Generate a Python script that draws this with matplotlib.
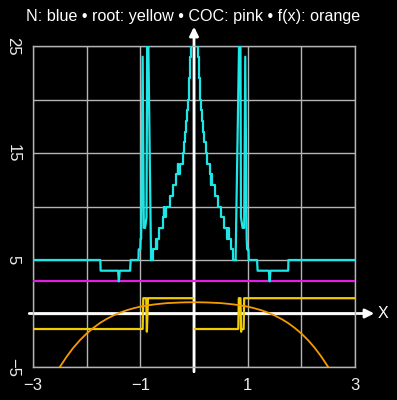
import numpy as np
import matplotlib
matplotlib.use("Agg")
import matplotlib.pyplot as plt

plt.rcParams['font.family'] = ['Liberation Sans', 'DejaVu Sans']

# ---- data ----
# N (iterations) : chaotic / flat parts, left and right of the centre
n_left_x = [-3.0, -1.745, -1.74, -1.415, -1.40, -1.385, -1.19, -1.18, -1.035, -1.03,
            -1.0, -0.995, -0.985, -0.957, -0.935, -0.912, -0.885, -0.868, -0.80]
n_left_y = [5, 5, 4, 4, 3, 4, 4, 5, 5, 6, 6, 7, 7, 24, 8, 8, 9, 32, 5]
n_right_x = [0.775, 0.862, 0.875, 0.905, 0.935, 0.955, 0.982, 0.99, 1.015, 1.02,
             1.175, 1.185, 1.395, 1.41, 1.425, 1.755, 1.76, 3.0]
n_right_y = [5, 32, 9, 8, 8, 24, 7, 6, 6, 5, 5, 4, 4, 3, 4, 4, 5, 5]

# N : staircase around x = 0
stair_x = [-0.80, -0.755, -0.70, -0.69, -0.682, -0.655, -0.585, -0.56, -0.552, -0.515,
           -0.45, -0.39, -0.33, -0.30, -0.292, -0.27, -0.21, -0.185, -0.165, -0.148,
           -0.132, -0.115, -0.10, -0.088, -0.077, -0.068, -0.06, -0.052,
           0.066, 0.075, 0.084, 0.094, 0.105, 0.118, 0.133, 0.15, 0.168, 0.19,
           0.215, 0.235, 0.29, 0.31, 0.318, 0.34, 0.39, 0.45, 0.50, 0.565,
           0.62, 0.64, 0.648, 0.69, 0.725, 0.775]
stair_n = [5, 6, 7, 6, 7, 8, 9, 10, 9, 10,
           11, 12, 13, 14, 13, 14, 15, 16, 17, 18,
           19, 20, 21, 22, 23, 24, 25, 30,
           25, 24, 23, 22, 21, 20, 19, 18, 17, 16,
           15, 14, 13, 12, 13, 12, 11, 10, 9, 8,
           7, 8, 7, 6, 5, 5]

# root reached
root_x = [-3.0, -0.957, -0.945, -0.89, -0.878, -0.858, -0.015, np.nan,
          0.02, 0.825, 0.835, 0.866, 0.878, 0.885, 0.925, 0.935, 3.0]
root_y = [-1.45, -1.45, 1.43, 1.43, -1.7, 1.43, 1.43, np.nan,
          -1.45, -1.45, 1.43, 1.43, -1.7, -1.45, -1.45, 1.43, 1.43]

# COC
coc_x = [-3.0, 3.0]
coc_y = [3.0, 3.0]

# f(x)
fx_x = [-2.5, -2.375, -2.25, -2.125, -2.0, -1.875, -1.75, -1.625, -1.5, -1.375, -1.25,
        -1.125, -1.0, -0.875, -0.75, -0.625, -0.5, -0.375, -0.25, -0.125, 0.0,
        0.125, 0.25, 0.375, 0.5, 0.625, 0.75, 0.875, 1.0, 1.125, 1.25,
        1.375, 1.5, 1.625, 1.75, 1.875, 2.0, 2.125, 2.25, 2.375, 2.5]
fx_y = [-5.0, -4.05, -3.21, -2.49, -1.87, -1.34, -0.88, -0.50, -0.18, 0.09, 0.31,
        0.49, 0.64, 0.75, 0.84, 0.91, 0.97, 1.0, 1.03, 1.045, 1.05,
        1.045, 1.03, 1.0, 0.97, 0.91, 0.84, 0.75, 0.64, 0.49, 0.31,
        0.09, -0.18, -0.50, -0.88, -1.34, -1.87, -2.49, -3.21, -4.05, -5.0]

x_ticks = [-3, -1, 1, 3]
y_ticks = [-5, 5, 15, 25]

title = 'N: blue \u2022 root: yellow \u2022 COC: pink \u2022 f(x): orange'

# ---- figure ----
fig = plt.figure(figsize=(3.97, 4.0), dpi=100, facecolor='black')
ax = fig.add_axes([33/397, 33/400, 322/397, 321/400])
ax.set_facecolor('black')
ax.set_xlim(-3, 3)
ax.set_ylim(-5, 25)

grid_c = '#b4b4b4'
ax.set_xticks(x_ticks)
ax.set_xticks([-2, 0, 2], minor=True)
ax.set_yticks(y_ticks)
ax.set_yticks([0, 10, 20], minor=True)
ax.grid(True, which='both', color=grid_c, lw=1.0, zorder=0)
ax.set_axisbelow(True)
for s in ax.spines.values():
    s.set_color(grid_c)
    s.set_linewidth(1.0)

ax.tick_params(which='both', length=0, colors='#ececec', labelsize=12)
ax.tick_params(axis='x', pad=8)
ax.tick_params(axis='y', pad=9, labelrotation=-90)
for lab in ax.get_yticklabels():
    lab.set_va('center')

# axes with arrows
ax.annotate('', xy=(3.36, 0), xytext=(-3.07, 0), annotation_clip=False,
            arrowprops=dict(arrowstyle='-|>', color='white', lw=2.0,
                            mutation_scale=13, shrinkA=0, shrinkB=0), zorder=2)
ax.annotate('', xy=(0, 26.8), xytext=(0, -5.45), annotation_clip=False,
            arrowprops=dict(arrowstyle='-|>', color='white', lw=2.0,
                            mutation_scale=13, shrinkA=0, shrinkB=0), zorder=2)

ax.plot(coc_x, coc_y, color='#e21ee2', lw=1.6, zorder=3)
ax.plot(n_left_x, n_left_y, color='#1ee6e6', lw=1.6, zorder=4)
ax.plot(n_right_x, n_right_y, color='#1ee6e6', lw=1.6, zorder=4)
ax.step(stair_x, stair_n, where='post', color='#1ee6e6', lw=1.6, zorder=4)
ax.plot(root_x, root_y, color='#f0cc00', lw=1.6, zorder=5)
ax.plot(fx_x, fx_y, color='#f59a00', lw=1.3, zorder=6)

fig.text(193.5/397, 1 - 16/400, title, color='white', fontsize=11.6,
         ha='center', va='center')
fig.text(383/397, 1 - 314/400, 'X', color='white', fontsize=11.5,
         ha='center', va='center')

fig.savefig('out.png', dpi=100, facecolor='black')
